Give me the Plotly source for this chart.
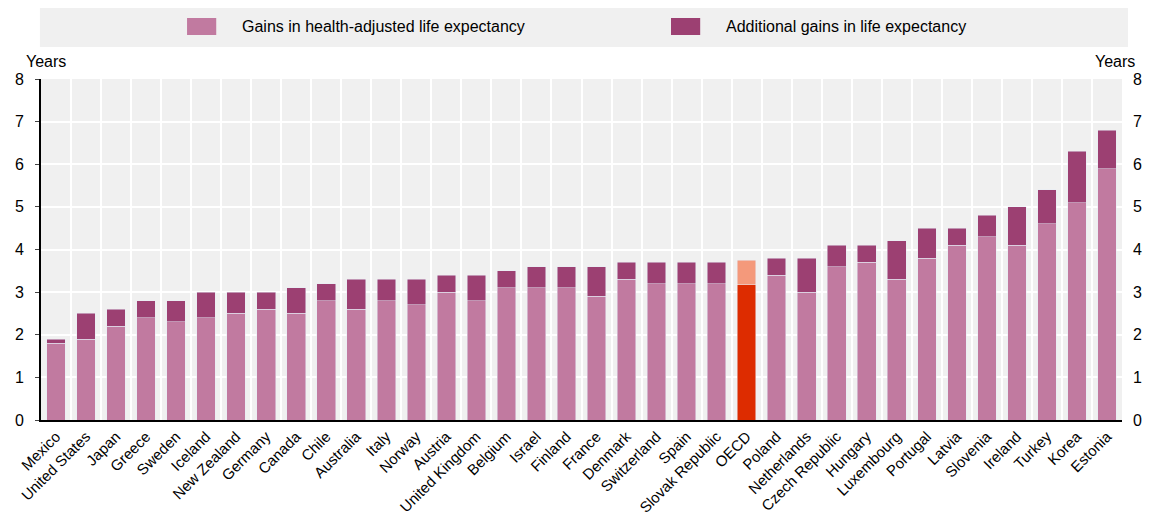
import plotly.graph_objects as go

countries = [
    "Mexico", "United States", "Japan", "Greece", "Sweden", "Iceland", "New Zealand",
    "Germany", "Canada", "Chile", "Australia", "Italy", "Norway", "Austria",
    "United Kingdom", "Belgium", "Israel", "Finland", "France", "Denmark",
    "Switzerland", "Spain", "Slovak Republic", "OECD", "Poland", "Netherlands",
    "Czech Republic", "Hungary", "Luxembourg", "Portugal", "Latvia", "Slovenia",
    "Ireland", "Turkey", "Korea", "Estonia",
]
# gains in health-adjusted life expectancy (years)
hale_gain = [
    1.8, 1.9, 2.2, 2.4, 2.3, 2.4, 2.5, 2.6, 2.5, 2.8, 2.6, 2.8, 2.7, 3.0,
    2.8, 3.1, 3.1, 3.1, 2.9, 3.3, 3.2, 3.2, 3.2, 3.17, 3.4, 3.0,
    3.6, 3.7, 3.3, 3.8, 4.1, 4.3, 4.1, 4.6, 5.1, 5.9,
]
# total gains in life expectancy (years)
le_gain = [
    1.9, 2.5, 2.6, 2.8, 2.8, 3.0, 3.0, 3.0, 3.1, 3.2, 3.3, 3.3, 3.3, 3.4,
    3.4, 3.5, 3.6, 3.6, 3.6, 3.7, 3.7, 3.7, 3.7, 3.75, 3.8, 3.8,
    4.1, 4.1, 4.2, 4.5, 4.5, 4.8, 5.0, 5.4, 6.3, 6.8,
]
extra_gain = [round(t - h, 2) for t, h in zip(le_gain, hale_gain)]
series_names = ["Gains in health-adjusted life expectancy", "Additional gains in life expectancy"]

LIGHT = "#c17aa0"
DARK = "#9c4072"
OECD_DARK = "#dd2c00"
OECD_LIGHT = "#f4997b"
FONT = "Liberation Sans, Arial"

is_oecd = [c == "OECD" for c in countries]
hale_country = [None if o else v for v, o in zip(hale_gain, is_oecd)]
extra_country = [None if o else v for v, o in zip(extra_gain, is_oecd)]
hale_oecd = [v if o else None for v, o in zip(hale_gain, is_oecd)]
extra_oecd = [v if o else None for v, o in zip(extra_gain, is_oecd)]

fig = go.Figure()
fig.add_trace(go.Bar(x=countries, y=hale_country, name=series_names[0], marker_color=LIGHT, width=0.62))
fig.add_trace(go.Bar(x=countries, y=extra_country, name=series_names[1], marker_color=DARK, width=0.62))
fig.add_trace(go.Bar(x=countries, y=hale_oecd, marker_color=OECD_DARK, width=0.62))
fig.add_trace(go.Bar(x=countries, y=extra_oecd, marker_color=OECD_LIGHT, width=0.62))
# invisible trace so the right-hand axis is drawn
fig.add_trace(go.Scatter(x=[countries[0]], y=[0], yaxis="y2", mode="markers",
                         marker_opacity=0, hoverinfo="skip"))

# grey legend band with hand-drawn keys
fig.add_shape(type="rect", xref="paper", yref="paper", x0=-0.001, x1=1.0056, y0=1.0938, y1=1.2082,
              fillcolor="#f0f0f0", line_width=0, layer="below")
for key_x, color, label in [(0.1351, LIGHT, series_names[0]), (0.5828, DARK, series_names[1])]:
    fig.add_shape(type="rect", xref="paper", yref="paper", x0=key_x, x1=key_x + 0.027,
                  y0=1.1290, y1=1.1789, fillcolor=color, line_width=0)
    fig.add_annotation(text=label, xref="paper", yref="paper", x=key_x + 0.049, y=1.1525,
                       xanchor="left", yanchor="middle", showarrow=False, font=dict(size=16))

fig.add_annotation(text="Years", xref="paper", yref="paper", x=0.005, y=1.05,
                   xanchor="center", yanchor="middle", showarrow=False, font=dict(size=16))
fig.add_annotation(text="Years", xref="paper", yref="paper", x=0.9935, y=1.05,
                   xanchor="center", yanchor="middle", showarrow=False, font=dict(size=16))

# the page body has an 8px margin, so the figure is sized to the visible part of the window
fig.update_layout(
    barmode="stack",
    width=1143,
    height=509,
    showlegend=False,
    margin=dict(l=33, r=29, t=71, b=97, autoexpand=False),
    plot_bgcolor="#f0f0f0",
    paper_bgcolor="white",
    font=dict(family=FONT, size=16, color="black"),
    xaxis=dict(
        type="category",
        range=[-0.5, len(countries) - 0.5],
        tickangle=-45,
        tickson="boundaries",
        showgrid=True,
        gridcolor="white",
        gridwidth=2,
        ticks="",
        showline=True,
        linecolor="black",
        linewidth=2,
        tickfont=dict(size=15),
    ),
    yaxis=dict(
        range=[0, 8],
        dtick=1,
        showgrid=True,
        gridcolor="white",
        gridwidth=2,
        zeroline=False,
        showline=True,
        linecolor="black",
        linewidth=2,
        ticks="outside",
        ticklen=4,
        ticklabelstandoff=8,
        tickfont=dict(size=16),
    ),
    yaxis2=dict(
        range=[0, 8],
        dtick=1,
        overlaying="y",
        side="right",
        showgrid=False,
        zeroline=False,
        showline=False,
        ticks="",
        ticklabelstandoff=10,
        tickfont=dict(size=16),
    ),
)

fig.write_html("out.html")
